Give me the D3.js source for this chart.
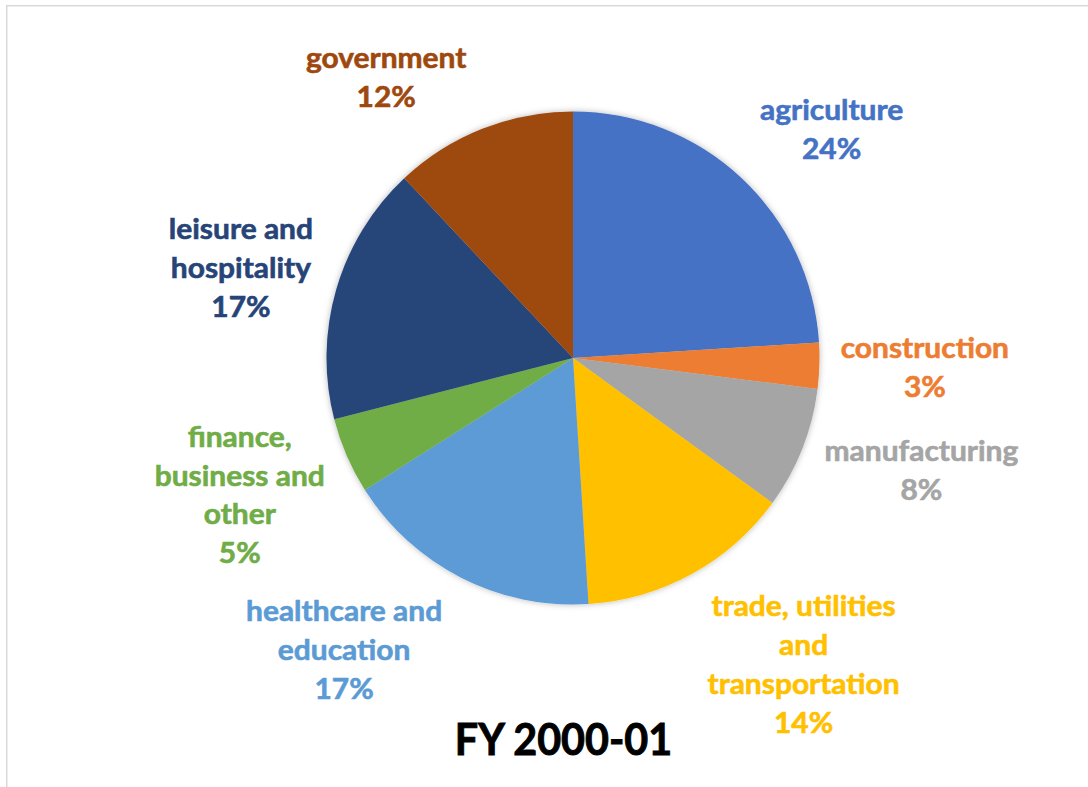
<!DOCTYPE html>
<html>
<head>
<meta charset="utf-8">
<script src="https://cdn.jsdelivr.net/npm/d3@7"></script>
<style>
  html, body { margin: 0; padding: 0; background: #ffffff; }
  svg { display: block; }
  text { font-family: Lato, "Open Sans", sans-serif; font-weight: 700; }
</style>
</head>
<body>
<svg id="chart" width="1088" height="787"></svg>
<script>
// Employment shares by sector, FY 2000-01 (clockwise from 12 o'clock)
const categories = [
  "agriculture", "construction", "manufacturing", "trade, utilities and transportation",
  "healthcare and education", "finance, business and other", "leisure and hospitality", "government"
];
const shares = [24, 3, 8, 14, 17, 5, 17, 12];
const sliceColors = ["#4472C4", "#ED7D31", "#A5A5A5", "#FFC000", "#5B9BD5", "#70AD47", "#264478", "#9E480E"];
// How each category name wraps inside its label
const labelLines = [
  ["agriculture"],
  ["construction"],
  ["manufacturing"],
  ["trade, utilities", "and", "transportation"],
  ["healthcare and", "education"],
  ["finance,", "business and", "other"],
  ["leisure and", "hospitality"],
  ["government"]
];
const chartTitle = "FY 2000-01";

// Layout
const cx = 573, cy = 358, radius = 246.5;
const labelRadius = 350;
const lineStep = 39;
const labelSize = 28.5, labelStretch = 1.05;
const titleSize = 43, titleStretch = 0.96;
// small offsets of each label block from its outer anchor point
const labelNudge = [[19, 27], [2, -1], [23, -16], [62, 0], [-70, -20], [-12, -2], [4, 8], [-58, 45]];

const svg = d3.select("#chart");

// chart-area frame
svg.append("rect")
  .attr("x", 6.75).attr("y", 5.75)
  .attr("width", 1200).attr("height", 900)
  .attr("fill", "#ffffff")
  .attr("stroke", "#d9d9d9").attr("stroke-width", 1.5);

const defs = svg.append("defs");
const shadow = defs.append("filter").attr("id", "pieShadow")
  .attr("x", "-20%").attr("y", "-20%").attr("width", "140%").attr("height", "140%");
shadow.append("feDropShadow")
  .attr("dx", 0).attr("dy", 0).attr("stdDeviation", 3)
  .attr("flood-color", "#000000").attr("flood-opacity", 0.28);

const pie = d3.pie().sort(null).value(d => d);
const arcs = pie(shares);
const arc = d3.arc().innerRadius(0).outerRadius(radius);

const g = svg.append("g").attr("transform", `translate(${cx},${cy})`);

g.append("g").attr("filter", "url(#pieShadow)")
  .selectAll("path")
  .data(arcs)
  .join("path")
  .attr("d", arc)
  .attr("fill", (d, i) => sliceColors[i]);

// data labels: category name + percentage
const labels = g.selectAll("g.label")
  .data(arcs)
  .join("g")
  .attr("class", "label")
  .attr("transform", (d, i) => {
    const a = (d.startAngle + d.endAngle) / 2;
    const x = Math.sin(a) * labelRadius + labelNudge[i][0];
    const y = -Math.cos(a) * labelRadius + labelNudge[i][1];
    return `translate(${x},${y}) scale(${labelStretch},1)`;
  });

labels.each(function (d, i) {
  const lines = labelLines[i].concat([`${shares[i]}%`]);
  const first = 10 - (lines.length - 1) * lineStep / 2;
  d3.select(this).selectAll("text")
    .data(lines)
    .join("text")
    .attr("x", 0)
    .attr("y", (t, k) => first + k * lineStep)
    .attr("text-anchor", "middle")
    .attr("font-size", labelSize)
    .attr("fill", sliceColors[i])
    .attr("stroke", sliceColors[i])
    .attr("stroke-width", 0.6)
    .text(t => t);
});

svg.append("text")
  .attr("transform", `translate(563.5,755) scale(${titleStretch},1)`)
  .attr("text-anchor", "middle")
  .attr("font-size", titleSize)
  .attr("fill", "#000000")
  .attr("stroke", "#000000")
  .attr("stroke-width", 0.9)
  .text(chartTitle);
</script>
</body>
</html>
